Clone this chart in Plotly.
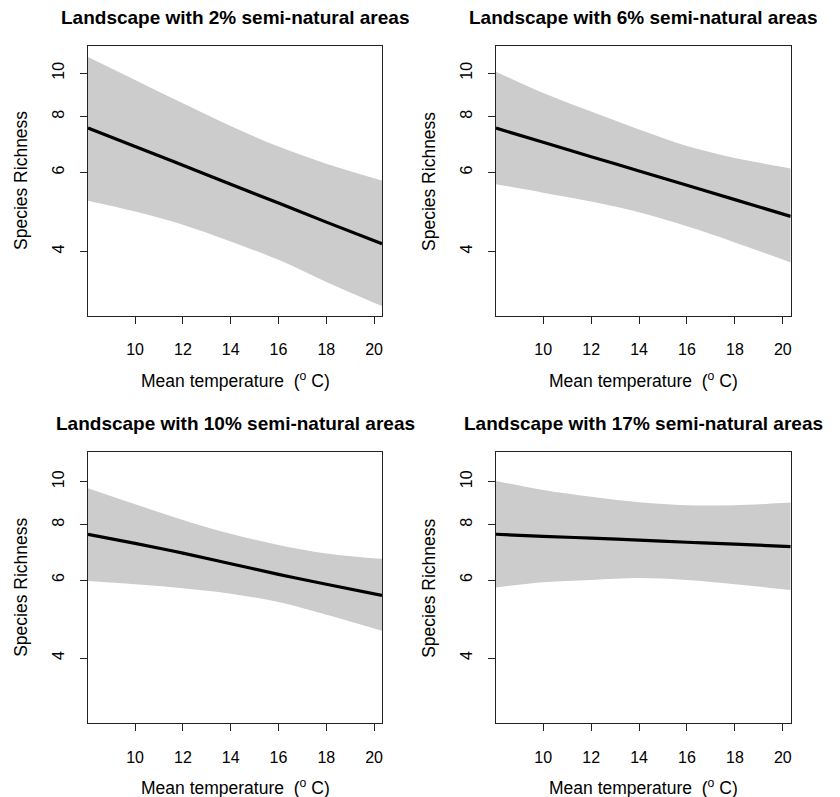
import plotly.graph_objects as go
import math

# ---- data ----
temp = [8.03, 10, 12, 14, 16, 18, 20.33]

titles = ["Landscape with 2% semi-natural areas",
          "Landscape with 6% semi-natural areas",
          "Landscape with 10% semi-natural areas",
          "Landscape with 17% semi-natural areas"]

fit_2 = [7.54, 6.86, 6.23, 5.65, 5.13, 4.65, 4.16]
upper_2 = [10.87, 9.66, 8.57, 7.62, 6.86, 6.28, 5.76]
lower_2 = [5.19, 4.91, 4.59, 4.21, 3.83, 3.42, 3.02]

fit_6 = [7.54, 7.01, 6.51, 6.05, 5.62, 5.22, 4.79]
upper_6 = [10.08, 9.03, 8.21, 7.49, 6.88, 6.47, 6.13]
lower_6 = [5.65, 5.41, 5.17, 4.89, 4.55, 4.19, 3.78]

fit_10 = [7.61, 7.26, 6.90, 6.53, 6.18, 5.87, 5.54]
upper_10 = [9.66, 8.89, 8.20, 7.63, 7.20, 6.89, 6.70]
lower_10 = [5.97, 5.87, 5.75, 5.59, 5.35, 5.01, 4.61]

fit_17 = [7.61, 7.53, 7.46, 7.38, 7.30, 7.23, 7.14]
upper_17 = [10.04, 9.58, 9.25, 8.99, 8.85, 8.85, 8.97]
lower_17 = [5.77, 5.93, 6.00, 6.06, 6.00, 5.87, 5.70]

x_ticks = [10, 12, 14, 16, 18, 20]
y_ticks = [4, 6, 8, 10]
x_range = [8.03, 20.33]
y_range_top = [2.87, 11.5]
y_range_bottom = [2.85, 11.65]

panels = [(fit_2, upper_2, lower_2), (fit_6, upper_6, lower_6),
          (fit_10, upper_10, lower_10), (fit_17, upper_17, lower_17)]

W, H = 840, 797
# pixel boxes (left, right, top, bottom)
boxes = [(88, 382, 46, 316), (496, 790.7, 46, 316),
         (88, 382, 452.3, 723.3), (496, 790.7, 452.3, 723.3)]

FONT = "Arial, Liberation Sans, sans-serif"
fig = go.Figure()
layout = dict(width=W, height=H, margin=dict(l=0, r=0, t=0, b=0),
              paper_bgcolor="white", plot_bgcolor="white", showlegend=False,
              font=dict(family=FONT, color="black"))
annotations = []

for i, ((fit, up, lo), (l, r, t, b), title) in enumerate(zip(panels, boxes, titles)):
    n = "" if i == 0 else str(i + 1)
    xa, ya = "x" + n, "y" + n
    yr = y_range_top if i < 2 else y_range_bottom
    fig.add_trace(go.Scatter(x=temp, y=lo, mode="lines", line=dict(width=0, shape="spline", color="#CCCCCC"),
                             xaxis=xa, yaxis=ya, hoverinfo="skip"))
    fig.add_trace(go.Scatter(x=temp, y=up, mode="lines", line=dict(width=0, shape="spline", color="#CCCCCC"),
                             fill="tonexty", fillcolor="#CCCCCC", xaxis=xa, yaxis=ya, hoverinfo="skip"))
    fig.add_trace(go.Scatter(x=temp, y=fit, mode="lines", line=dict(width=3.2, color="black", shape="spline"),
                             xaxis=xa, yaxis=ya))
    axis_common = dict(showline=True, linecolor="#222", linewidth=1, mirror=True, ticks="outside",
                       ticklen=7, tickwidth=1, tickcolor="#222", showgrid=False, zeroline=False,
                       tickfont=dict(size=16, family=FONT, color="black"))
    layout["xaxis" + n] = dict(axis_common, domain=[l / W, r / W], range=x_range, tickvals=x_ticks,
                               anchor=ya, ticklabelstandoff=12)
    layout["yaxis" + n] = dict(axis_common, domain=[1 - b / H, 1 - t / H], type="log",
                               range=[math.log10(yr[0]), math.log10(yr[1])],
                               tickvals=y_ticks, ticktext=[str(v) for v in y_ticks],
                               tickangle=-90, anchor=xa, ticklabelstandoff=10)
    cx = (l + r) / 2
    annotations.append(dict(text="<b>" + title + "</b>", x=cx / W, y=1 - (t - 29) / H, xref="paper", yref="paper",
                            showarrow=False, font=dict(size=19, family=FONT, color="black"),
                            xanchor="center", yanchor="middle"))
    annotations.append(dict(text="Mean temperature  (<sup>o</sup> C)", x=cx / W, y=1 - (b + 64) / H,
                            xref="paper", yref="paper", showarrow=False,
                            font=dict(size=17.5, family=FONT, color="black"), xanchor="center", yanchor="middle"))
    annotations.append(dict(text="Species Richness", x=(l - 67) / W, y=1 - ((t + b) / 2) / H,
                            xref="paper", yref="paper", showarrow=False, textangle=-90,
                            font=dict(size=17.5, family=FONT, color="black"), xanchor="center", yanchor="middle"))

layout["annotations"] = annotations
fig.update_layout(**layout)
fig.write_html("out.html", config={"displayModeBar": False},
               post_script="document.body.style.margin='0px';document.body.style.overflow='hidden';")
